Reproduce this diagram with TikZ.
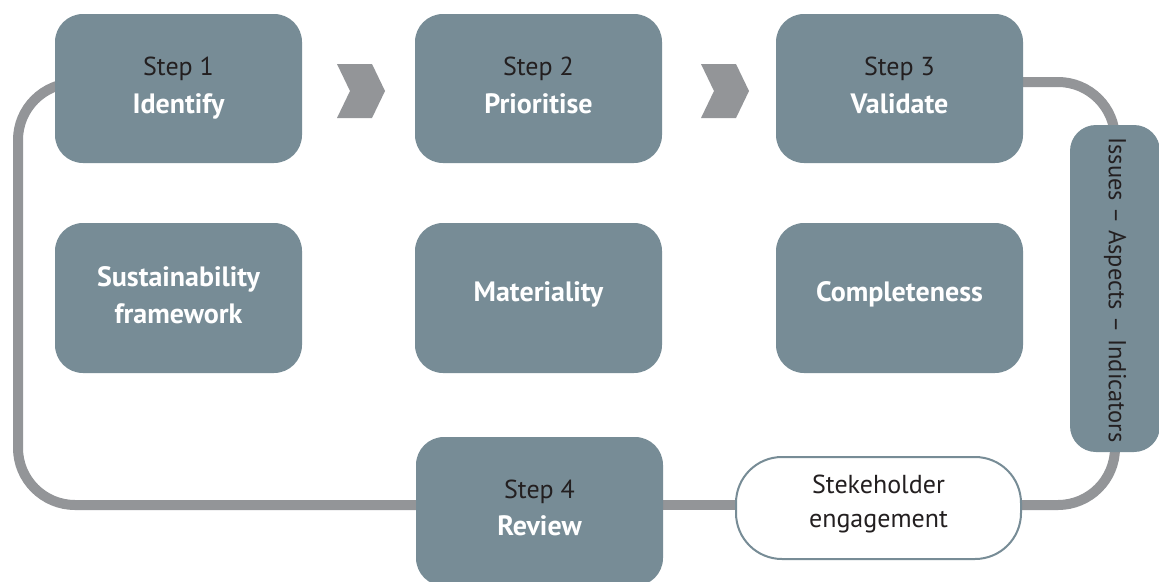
\documentclass[tikz,border=0pt]{standalone}
\usepackage{fontspec}
\setmainfont{PT Sans}
\usetikzlibrary{backgrounds}
\definecolor{slate}{RGB}{119,140,150}
\definecolor{loopgrey}{RGB}{147,149,152}
\definecolor{txtdark}{RGB}{35,31,32}
\newcommand\topst[1]{\rule{0pt}{#1pt}}
\newcommand\botst[1]{\rule[-#1pt]{0pt}{#1pt}}
\newcommand\bld[1]{{\fontsize{28}{38}\selectfont\bfseries #1}}
\tikzset{
  stepbox/.style={fill=slate, rounded corners=28pt, minimum width=247pt, minimum height=149pt,
    inner sep=0pt, align=center, text=white, font=\fontsize{26}{38}\selectfont},
  whitebox/.style={fill=white, draw=slate, line width=2pt, rounded corners=46pt,
    minimum width=285pt, minimum height=102pt, inner sep=0pt, align=center,
    text=txtdark, font=\fontsize{26}{34}\selectfont},
  vertbox/.style={fill=slate, rounded corners=26pt, minimum width=327pt, minimum height=90pt,
    inner sep=0pt, rotate=-90, text=txtdark, font=\fontsize{24.5}{30}\selectfont},
  loopline/.style={draw=loopgrey, line width=10pt, rounded corners=57pt},
  chev/.style={fill=loopgrey}
}
\begin{document}
\begin{tikzpicture}[x=1pt, y=-1pt]
\useasboundingbox (0,0) rectangle (1159,581);
% steps
\node[stepbox] (s1) at (178.5,88.5) {\topst{20}{\color{txtdark}Step 1}\\\bld{Identify}\botst{8}};
\node[stepbox] (s2) at (538.5,88.5) {\topst{20}{\color{txtdark}Step 2}\\\bld{Prioritise}\botst{8}};
\node[stepbox] (s3) at (899.5,88.5) {\topst{20}{\color{txtdark}Step 3}\\\bld{Validate}\botst{8}};
\node[stepbox, minimum height=150pt, font=\fontsize{26}{37}\selectfont] (r1) at (178.5,298) {\topst{20}\bld{Sustainability}\\\bld{framework}\botst{7}};
\node[stepbox, minimum height=150pt] (r2) at (538.5,298) {\topst{20}\bld{Materiality}\botst{14}};
\node[stepbox, minimum height=150pt] (r3) at (899.5,298) {\topst{20}\bld{Completeness}\botst{14}};
\node[stepbox, font=\fontsize{26}{37}\selectfont] (s4) at (539.5,511.5) {\topst{20}{\color{txtdark}Step 4}\\\bld{Review}\botst{10}};
\node[whitebox] (st) at (878.5,508) {\topst{20}Stekeholder\\engagement\botst{16}};
\node[vertbox] (vb) at (1115,288.5) {\rule{3pt}{0pt}Issues -- Aspects -- Indicators};
% chevrons
\fill[chev] (337,64) -- (372,64) -- (385,91) -- (372,118) -- (337,118) -- (350,91) -- cycle;
\fill[chev] (701,64) -- (736,64) -- (749,91) -- (736,118) -- (701,118) -- (714,91) -- cycle;
% loop
\coordinate (tl) at (18,83);
\coordinate (bl) at (18,505);
\coordinate (tr) at (1115,82);
\coordinate (br) at (1115,505);
\begin{scope}[on background layer]
\fill[white] (0,0) rectangle (1159,581);
\draw[loopline] (s3.center |- tr) -- (tr) -- (vb.center);
\draw[loopline] (vb.center) -- (br) -- (st.center |- br);
\draw[loopline] (st.center |- br) -- (s4.center |- br);
\draw[loopline] (s4.center |- bl) -- (bl) -- (tl) -- (s1.center |- tl);
\end{scope}
\end{tikzpicture}
\end{document}
